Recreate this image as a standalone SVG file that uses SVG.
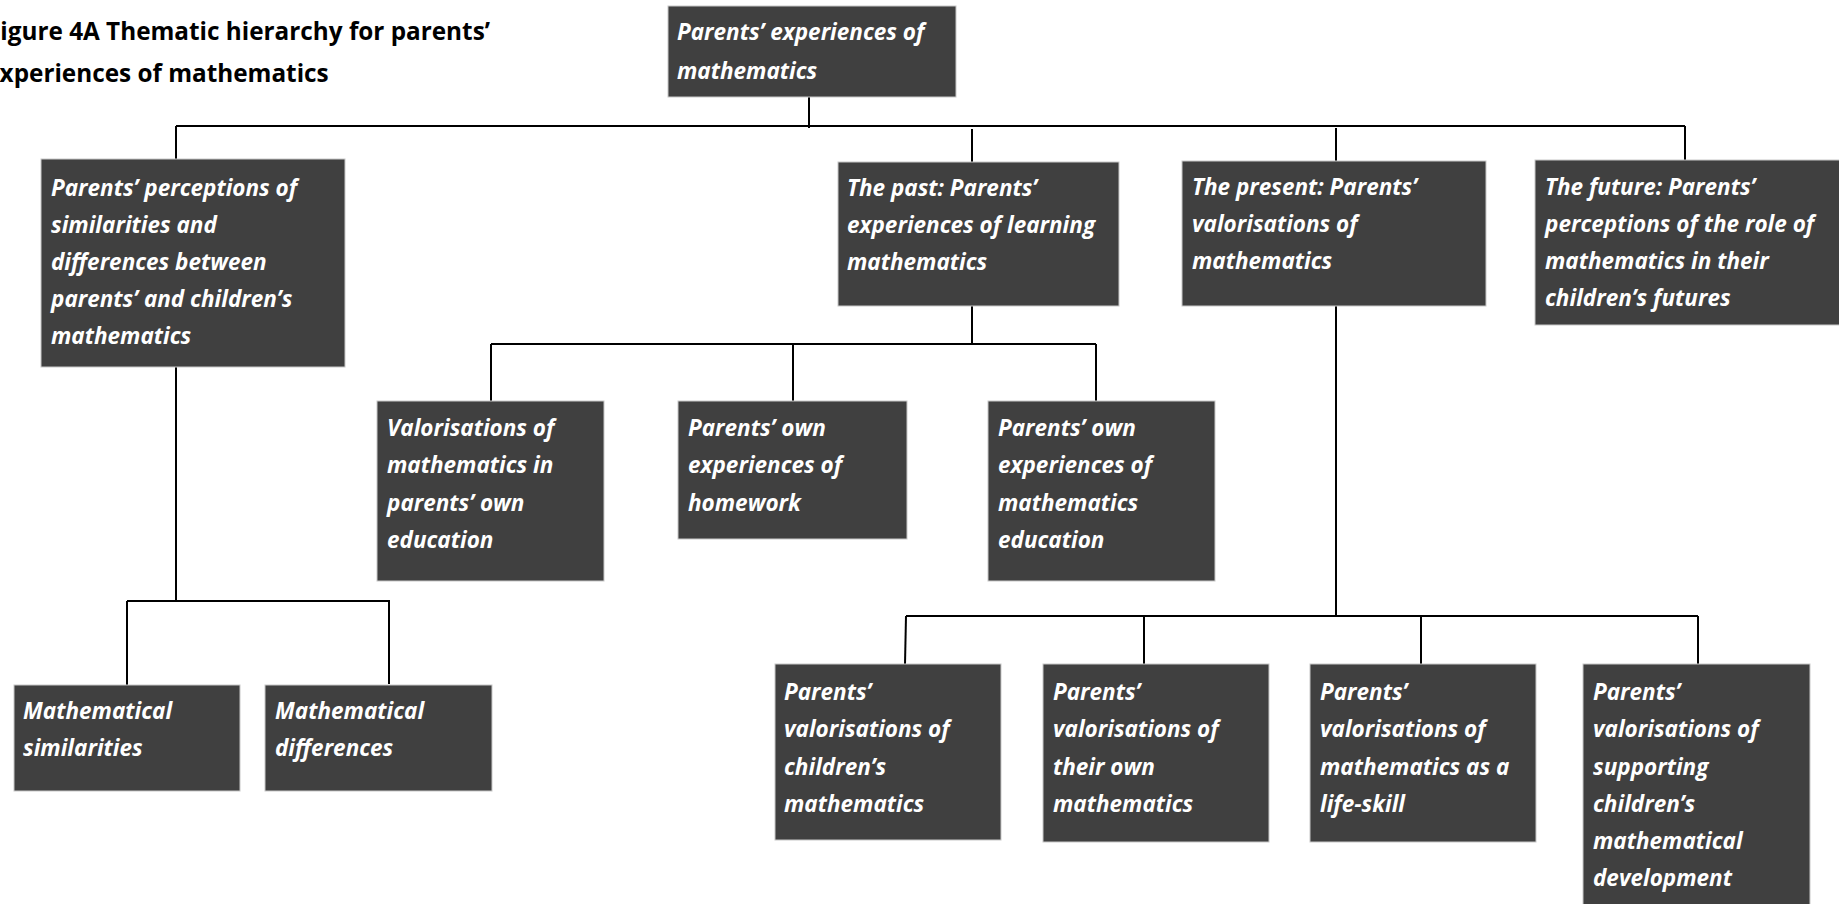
<svg xmlns="http://www.w3.org/2000/svg" width="1839" height="904" viewBox="0 0 1839 904">
  <style>
    .box { fill: #404040; stroke: #c8c8c8; stroke-width: 1; }
    .lbl { font-family: "Open Sans", "Liberation Sans", sans-serif; font-weight: bold; font-style: italic; font-size: 22.5px; fill: #ffffff; }
    .title { font-family: "Open Sans", "Liberation Sans", sans-serif; font-weight: bold; font-size: 24.3px; fill: #000000; }
    .conn line { stroke: #000000; stroke-width: 2; fill: none; }
  </style>
  <rect width="1839" height="904" fill="#ffffff"/>

  <g id="title">
    <text class="title" x="-13" y="40">Figure 4A Thematic hierarchy for parents’</text>
    <text class="title" x="-14" y="82">Experiences of mathematics</text>
  </g>

  <g id="connectors" class="conn">
    <line x1="809" y1="97" x2="809" y2="128"/>
    <line x1="176" y1="126" x2="1685" y2="126"/>
    <line x1="176" y1="126" x2="176" y2="159"/>
    <line x1="972" y1="129" x2="972" y2="162"/>
    <line x1="1336" y1="128" x2="1336" y2="161"/>
    <line x1="1685" y1="126" x2="1685" y2="160"/>

    <line x1="176" y1="367" x2="176" y2="601"/>
    <line x1="127" y1="601" x2="390" y2="601"/>
    <line x1="127" y1="601" x2="127" y2="685"/>
    <line x1="389" y1="601" x2="389" y2="684"/>

    <line x1="972" y1="306" x2="972" y2="344"/>
    <line x1="491" y1="344" x2="1096" y2="344"/>
    <line x1="491" y1="344" x2="491" y2="401"/>
    <line x1="793" y1="344" x2="793" y2="401"/>
    <line x1="1096" y1="344" x2="1096" y2="401"/>

    <line x1="1336" y1="306" x2="1336" y2="616"/>
    <line x1="906" y1="616" x2="1698" y2="616"/>
    <line x1="906" y1="616" x2="905" y2="664"/>
    <line x1="1144" y1="616" x2="1144" y2="664"/>
    <line x1="1421" y1="616" x2="1421" y2="664"/>
    <line x1="1698" y1="616" x2="1698" y2="664"/>
  </g>

  <g id="root">
    <rect class="box" x="668" y="6" width="288" height="91"/>
    <text class="lbl" x="677" y="40">Parents’ experiences of</text>
    <text class="lbl" x="677" y="79">mathematics</text>
  </g>

  <g id="similarities-differences">
    <rect class="box" x="41" y="159" width="304" height="208"/>
    <text class="lbl" x="51" y="196">Parents’ perceptions of</text>
    <text class="lbl" x="51" y="233">similarities and</text>
    <text class="lbl" x="51" y="270">differences between</text>
    <text class="lbl" x="51" y="307">parents’ and children’s</text>
    <text class="lbl" x="51" y="344">mathematics</text>
  </g>

  <g id="past">
    <rect class="box" x="838" y="162" width="281" height="144"/>
    <text class="lbl" x="847" y="196">The past: Parents’</text>
    <text class="lbl" x="847" y="233">experiences of learning</text>
    <text class="lbl" x="847" y="270">mathematics</text>
  </g>

  <g id="present">
    <rect class="box" x="1182" y="161" width="304" height="145"/>
    <text class="lbl" x="1192" y="195">The present: Parents’</text>
    <text class="lbl" x="1192" y="232">valorisations of</text>
    <text class="lbl" x="1192" y="269">mathematics</text>
  </g>

  <g id="future">
    <rect class="box" x="1535" y="160" width="310" height="165"/>
    <text class="lbl" x="1545" y="195">The future: Parents’</text>
    <text class="lbl" x="1545" y="232">perceptions of the role of</text>
    <text class="lbl" x="1545" y="269">mathematics in their</text>
    <text class="lbl" x="1545" y="306">children’s futures</text>
  </g>

  <g id="math-similarities">
    <rect class="box" x="14" y="685" width="226" height="106"/>
    <text class="lbl" x="23" y="719">Mathematical</text>
    <text class="lbl" x="23" y="756">similarities</text>
  </g>

  <g id="math-differences">
    <rect class="box" x="265" y="685" width="227" height="106"/>
    <text class="lbl" x="275" y="719">Mathematical</text>
    <text class="lbl" x="275" y="756">differences</text>
  </g>

  <g id="valorisations-own-education">
    <rect class="box" x="377" y="401" width="227" height="180"/>
    <text class="lbl" x="387" y="436">Valorisations of</text>
    <text class="lbl" x="387" y="473">mathematics in</text>
    <text class="lbl" x="387" y="511">parents’ own</text>
    <text class="lbl" x="387" y="548">education</text>
  </g>

  <g id="own-homework">
    <rect class="box" x="678" y="401" width="229" height="138"/>
    <text class="lbl" x="688" y="436">Parents’ own</text>
    <text class="lbl" x="688" y="473">experiences of</text>
    <text class="lbl" x="688" y="511">homework</text>
  </g>

  <g id="own-math-education">
    <rect class="box" x="988" y="401" width="227" height="180"/>
    <text class="lbl" x="998" y="436">Parents’ own</text>
    <text class="lbl" x="998" y="473">experiences of</text>
    <text class="lbl" x="998" y="511">mathematics</text>
    <text class="lbl" x="998" y="548">education</text>
  </g>

  <g id="val-children-math">
    <rect class="box" x="775" y="664" width="226" height="176"/>
    <text class="lbl" x="784" y="700">Parents’</text>
    <text class="lbl" x="784" y="737">valorisations of</text>
    <text class="lbl" x="784" y="775">children’s</text>
    <text class="lbl" x="784" y="812">mathematics</text>
  </g>

  <g id="val-own-math">
    <rect class="box" x="1043" y="664" width="226" height="178"/>
    <text class="lbl" x="1053" y="700">Parents’</text>
    <text class="lbl" x="1053" y="737">valorisations of</text>
    <text class="lbl" x="1053" y="775">their own</text>
    <text class="lbl" x="1053" y="812">mathematics</text>
  </g>

  <g id="val-life-skill">
    <rect class="box" x="1310" y="664" width="226" height="178"/>
    <text class="lbl" x="1320" y="700">Parents’</text>
    <text class="lbl" x="1320" y="737">valorisations of</text>
    <text class="lbl" x="1320" y="775">mathematics as a</text>
    <text class="lbl" x="1320" y="812">life-skill</text>
  </g>

  <g id="val-supporting">
    <rect class="box" x="1583" y="664" width="227" height="250"/>
    <text class="lbl" x="1593" y="700">Parents’</text>
    <text class="lbl" x="1593" y="737">valorisations of</text>
    <text class="lbl" x="1593" y="775">supporting</text>
    <text class="lbl" x="1593" y="812">children’s</text>
    <text class="lbl" x="1593" y="849">mathematical</text>
    <text class="lbl" x="1593" y="886">development</text>
  </g>
</svg>
